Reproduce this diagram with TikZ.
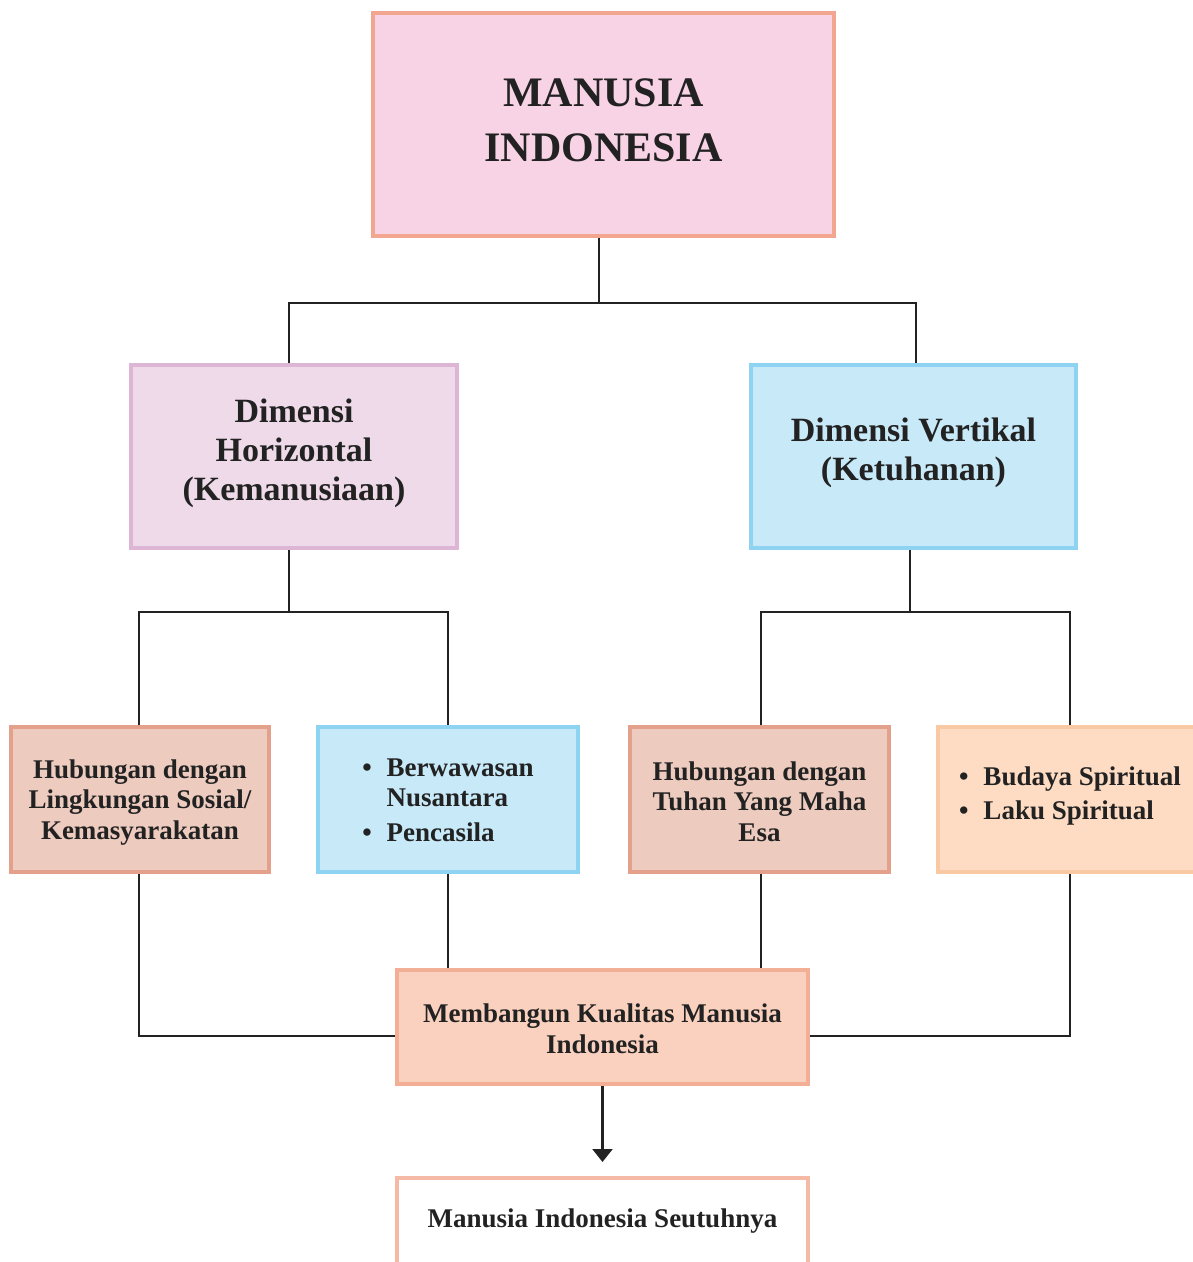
\documentclass[tikz,border=0pt]{standalone}
\usepackage{fontspec}
\setmainfont{Liberation Serif}
\usetikzlibrary{arrows.meta}

\definecolor{inkc}{HTML}{222222}
\definecolor{pinkfill}{HTML}{F8D3E6}
\definecolor{pinkline}{HTML}{F2A68F}
\definecolor{lilacfill}{HTML}{EEDAE8}
\definecolor{lilacline}{HTML}{DDB6D6}
\definecolor{skyfill}{HTML}{C8E9F8}
\definecolor{skyline}{HTML}{8FD3F2}
\definecolor{rosefill}{HTML}{EDCBBE}
\definecolor{roseline}{HTML}{E3A08A}
\definecolor{peachfill}{HTML}{FDDCC3}
\definecolor{peachline}{HTML}{F8C9A3}
\definecolor{salmonfill}{HTML}{F9D1BE}
\definecolor{salmonline}{HTML}{F3AE96}

% shift a block of text vertically without changing its reported size
\newcommand{\liftby}[2]{\raisebox{#1}[\height][\depth]{#2}}

\tikzset{
  box/.style={draw, line width=3.5pt, inner sep=0pt, align=center,
    text=inkc, font=\bfseries},
  bigtxt/.style={font=\bfseries\fontsize{42}{55}\selectfont},
  midtxt/.style={font=\bfseries\fontsize{34}{39}\selectfont},
  smalltxt/.style={font=\bfseries\fontsize{27}{30.5}\selectfont},
  conn/.style={draw=inkc, line width=2.2pt},
  arrowconn/.style={conn, -{Triangle[width=20pt,length=13pt]}}
}

\begin{document}
\begin{tikzpicture}[x=1pt,y=-1pt]
\useasboundingbox (0,0) rectangle (1193,1262);
\clip (0,0) rectangle (1193,1262);
\fill[white] (0,0) rectangle (1193,1262);

% top level
\node[box, bigtxt, fill=pinkfill, draw=pinkline,
      minimum width=461pt, minimum height=223pt] (top) at (603.5,124.5)
  {\liftby{2pt}{\begin{tabular}{@{}c@{}}MANUSIA\\INDONESIA\end{tabular}}};

% the two dimensions
\node[box, midtxt, fill=lilacfill, draw=lilacline,
      minimum width=326pt, minimum height=183pt] (dh) at (294,456.5)
  {\liftby{3pt}{\begin{tabular}{@{}c@{}}Dimensi\\Horizontal\\(Kemanusiaan)\end{tabular}}};
\node[box, midtxt, fill=skyfill, draw=skyline,
      minimum width=325pt, minimum height=183pt] (dv) at (913.5,456.5)
  {\liftby{3pt}{\begin{tabular}{@{}c@{}}Dimensi Vertikal\\(Ketuhanan)\end{tabular}}};

% third level
\node[box, smalltxt, fill=rosefill, draw=roseline,
      minimum width=258pt, minimum height=145pt] (hs) at (140,799.5)
  {\liftby{-3pt}{\begin{tabular}{@{}c@{}}Hubungan dengan\\Lingkungan Sosial/\\Kemasyarakatan\end{tabular}}};
\node[box, smalltxt, fill=skyfill, draw=skyline, align=left,
      minimum width=260pt, minimum height=145pt] (bw) at (448,799.5)
  {\liftby{-3pt}{\begin{tabular}{@{}l@{}}•\hspace{0.55em}Berwawasan\\
   \hphantom{•\hspace{0.55em}}Nusantara\\[4pt]
   •\hspace{0.55em}Pencasila\end{tabular}}};
\node[box, smalltxt, fill=rosefill, draw=roseline,
      minimum width=259pt, minimum height=145pt] (ht) at (759.5,799.5)
  {\liftby{-5pt}{\begin{tabular}{@{}c@{}}Hubungan dengan\\Tuhan Yang Maha\\Esa\end{tabular}}};
\node[box, smalltxt, fill=peachfill, draw=peachline, align=left,
      minimum width=264pt, minimum height=145pt] (bs) at (1070,799.5)
  {\liftby{3pt}{\begin{tabular}{@{}l@{}}•\hspace{0.55em}Budaya Spiritual\\[4pt]
   •\hspace{0.55em}Laku Spiritual\end{tabular}}};

% result boxes
\node[box, smalltxt, fill=salmonfill, draw=salmonline,
      minimum width=411pt, minimum height=114pt] (mb) at (602.5,1027)
  {\liftby{-5pt}{\begin{tabular}{@{}c@{}}Membangun Kualitas Manusia\\Indonesia\end{tabular}}};
\node[box, smalltxt, fill=white, draw=salmonline!85,
      minimum width=411pt, minimum height=110pt, anchor=north] (su) at (602.5,1176)
  {\liftby{12pt}{Manusia Indonesia Seutuhnya}};

% junction points
\coordinate (jt) at (599,303);
\coordinate (jl) at (289,612);
\coordinate (jr) at (910,612);

% tree connectors
\draw[conn] (top.south -| jt) -- (jt);
\draw[conn] ([xshift=-5pt]dh.north) |- (jt) -| ([xshift=2.5pt]dv.north);
\draw[conn] (dh.south -| jl) -- (jl);
\draw[conn] ([xshift=-1pt]hs.north) |- (jl) -| (bw.north);
\draw[conn] (dv.south -| jr) -- (jr);
\draw[conn] ([xshift=1.5pt]ht.north) |- (jr) -| (bs.north);

% converging connectors
\draw[conn] ([xshift=-1pt]hs.south) |- ([yshift=-9pt]mb.west);
\draw[conn] (bw.south) -- (bw.south |- mb.north);
\draw[conn] ([xshift=1.5pt]ht.south) -- ([xshift=1.5pt]ht.south |- mb.north);
\draw[conn] (bs.south) |- ([yshift=-9pt]mb.east);
\draw[arrowconn] (mb.south) -- ([yshift=14pt]su.north);
\end{tikzpicture}
\end{document}
